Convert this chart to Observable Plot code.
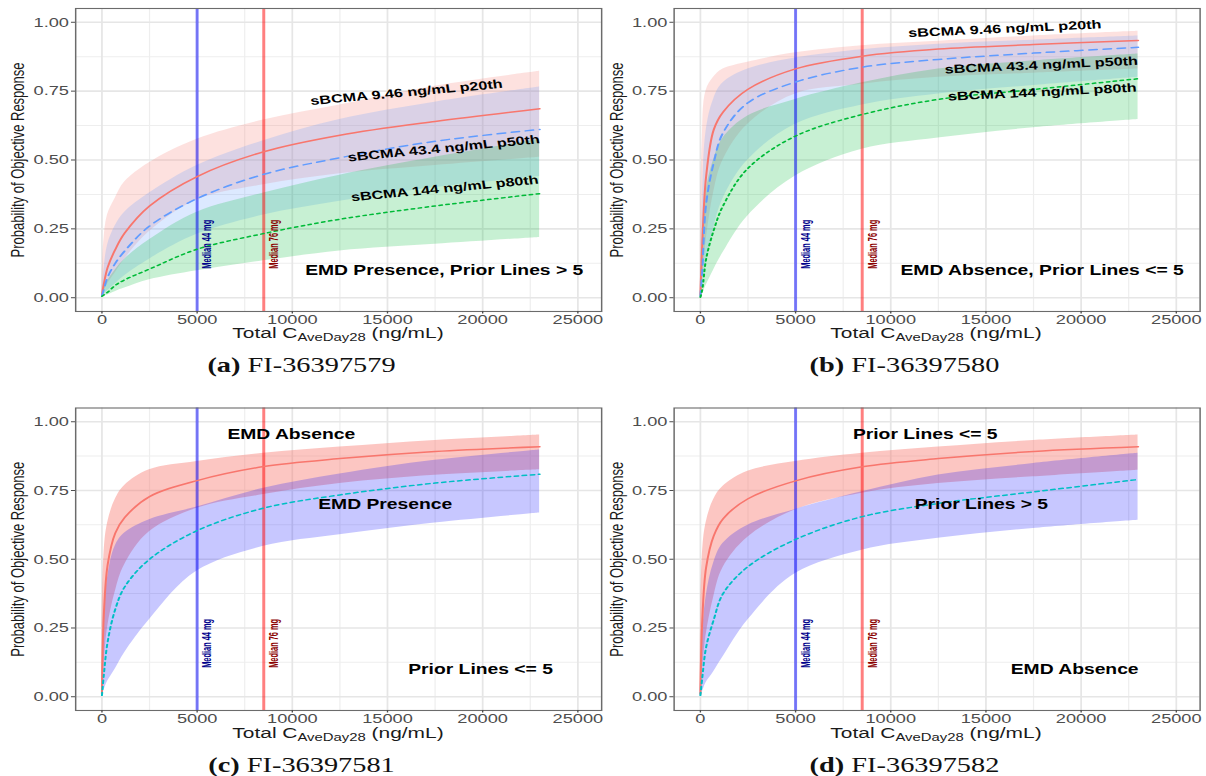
<!DOCTYPE html>
<html>
<head>
<meta charset="utf-8">
<script src="https://cdn.jsdelivr.net/npm/d3@7"></script>
<script src="https://cdn.jsdelivr.net/npm/@observablehq/plot@0.6"></script>
<style>
  html, body { margin: 0; padding: 0; background: #fff; }
  #fig { position: relative; width: 1206px; height: 776px; overflow: hidden; background: #fff; }
  #inner { position: absolute; left: 0; top: 0; height: 776px; transform-origin: 0 0; }
  .panel { position: absolute; }
  .xtitle { position: absolute; font-family: "Liberation Sans", Arial, sans-serif; font-size: 15.5px; line-height: 15px; color: #1a1a1a; white-space: nowrap; transform: translateX(-50%); }
  .xtitle sub { font-size: 11px; vertical-align: -0.25em; line-height: 0; }
  .cap { position: absolute; font-family: "Liberation Serif", "Times New Roman", serif; font-size: 21px; line-height: 20px; color: #111; white-space: nowrap; transform: translateX(-50%); }
  .cap b { font-weight: bold; }
</style>
</head>
<body>
<div id="fig"><div id="inner"></div></div>
<script>
// ---------------- data ----------------
const xs = [0, 100, 300, 700, 1200, 2500, 5000, 8500, 12500, 17500, 23000];

// (a) EMD presence, prior lines > 5
const aP20   = [0.010, 0.050, 0.110, 0.175, 0.235, 0.333, 0.440, 0.530, 0.590, 0.640, 0.686];
const aP20Lo = [0.005, 0.020, 0.050, 0.090, 0.140, 0.240, 0.355, 0.410, 0.450, 0.480, 0.510];
const aP20Hi = [0.015, 0.200, 0.300, 0.360, 0.420, 0.490, 0.575, 0.645, 0.700, 0.768, 0.822];
const aP50   = [0.007, 0.030, 0.075, 0.125, 0.170, 0.260, 0.360, 0.448, 0.508, 0.568, 0.611];
const aP50Lo = [0.003, 0.010, 0.025, 0.050, 0.080, 0.140, 0.230, 0.300, 0.350, 0.400, 0.440];
const aP50Hi = [0.010, 0.090, 0.190, 0.260, 0.310, 0.380, 0.480, 0.570, 0.647, 0.710, 0.765];
const aP80   = [0.005, 0.010, 0.020, 0.045, 0.065, 0.104, 0.176, 0.233, 0.285, 0.333, 0.378];
const aP80Lo = [0.002, 0.005, 0.010, 0.022, 0.035, 0.065, 0.098, 0.134, 0.170, 0.194, 0.219];
const aP80Hi = [0.010, 0.030, 0.060, 0.100, 0.140, 0.210, 0.310, 0.380, 0.445, 0.510, 0.575];

// (b) EMD absence, prior lines <= 5
const bP20   = [0.010, 0.200, 0.440, 0.610, 0.675, 0.757, 0.831, 0.877, 0.903, 0.919, 0.934];
const bP20Lo = [0.005, 0.060, 0.200, 0.380, 0.500, 0.630, 0.740, 0.775, 0.800, 0.815, 0.830];
const bP20Hi = [0.020, 0.550, 0.750, 0.800, 0.830, 0.855, 0.889, 0.915, 0.931, 0.950, 0.967];
const bP50   = [0.005, 0.100, 0.340, 0.490, 0.600, 0.708, 0.783, 0.837, 0.865, 0.888, 0.909];
const bP50Lo = [0.002, 0.030, 0.120, 0.250, 0.360, 0.500, 0.630, 0.700, 0.740, 0.770, 0.800];
const bP50Hi = [0.010, 0.300, 0.600, 0.720, 0.780, 0.830, 0.870, 0.900, 0.920, 0.935, 0.950];
const bP80   = [0.002, 0.030, 0.140, 0.245, 0.335, 0.470, 0.587, 0.665, 0.720, 0.756, 0.795];
const bP80Lo = [0.001, 0.010, 0.043, 0.100, 0.164, 0.297, 0.442, 0.539, 0.580, 0.617, 0.647];
const bP80Hi = [0.005, 0.120, 0.380, 0.500, 0.580, 0.660, 0.720, 0.780, 0.830, 0.860, 0.885];

// (c) prior lines <= 5: EMD absence vs presence
const cAbs    = [0.010, 0.300, 0.480, 0.595, 0.652, 0.728, 0.786, 0.837, 0.866, 0.892, 0.909];
const cAbsLo  = [0.005, 0.100, 0.250, 0.380, 0.480, 0.600, 0.685, 0.735, 0.775, 0.805, 0.825];
const cAbsHi  = [0.020, 0.500, 0.630, 0.716, 0.768, 0.825, 0.855, 0.885, 0.908, 0.932, 0.952];
const cPres   = [0.005, 0.080, 0.200, 0.318, 0.400, 0.500, 0.604, 0.686, 0.734, 0.777, 0.809];
const cPresLo = [0.002, 0.020, 0.055, 0.100, 0.160, 0.280, 0.457, 0.547, 0.589, 0.632, 0.668];
const cPresHi = [0.010, 0.250, 0.430, 0.547, 0.595, 0.644, 0.690, 0.758, 0.810, 0.860, 0.897];

// (d) EMD absence: prior lines <= 5 vs > 5
const dLe5    = [0.010, 0.280, 0.470, 0.585, 0.648, 0.720, 0.785, 0.836, 0.866, 0.892, 0.909];
const dLe5Lo  = [0.005, 0.080, 0.220, 0.360, 0.470, 0.580, 0.680, 0.740, 0.775, 0.800, 0.824];
const dLe5Hi  = [0.020, 0.500, 0.630, 0.716, 0.765, 0.820, 0.855, 0.885, 0.908, 0.932, 0.952];
const dGt5    = [0.005, 0.070, 0.180, 0.280, 0.376, 0.473, 0.572, 0.655, 0.703, 0.745, 0.790];
const dGt5Lo  = [0.002, 0.015, 0.050, 0.090, 0.145, 0.279, 0.448, 0.533, 0.576, 0.612, 0.642];
const dGt5Hi  = [0.010, 0.200, 0.360, 0.485, 0.558, 0.624, 0.681, 0.745, 0.806, 0.848, 0.885];

// reference lines and labels
const medianX = [5000, 8500];
const medianLabels = ["Median 44 mg", "Median 76 mg"];

// axis ticks
const xTicks = [0, 5000, 10000, 15000, 20000, 25000];
const xMinor = [2500, 7500, 12500, 17500, 22500];
const yTicks = [0, 0.25, 0.5, 0.75, 1];
const yMinor = [0.125, 0.375, 0.625, 0.875];

// annotation texts (data coordinates)
const aNoteText = ["sBCMA 9.46 ng/mL p20th", "sBCMA 43.4 ng/mL p50th", "sBCMA 144 ng/mL p80th"];
const aNoteX = [16000, 17960, 18010];
const aNoteY = [0.745, 0.542, 0.396];
const aNoteAngle = [-6.9, -7.4, -7.3];
const bNoteText = aNoteText;
const bNoteX = [15990, 17910, 17960];
const bNoteY = [0.976, 0.844, 0.746];
const bNoteAngle = [-3.5, -3.5, -3.7];

const captions = [["(a)", "FI-36397579"], ["(b)", "FI-36397580"], ["(c)", "FI-36397581"], ["(d)", "FI-36397582"]];

// ---------------- layout ----------------
const S = 1.35;                       // horizontal stretch of the reference
const inner = document.getElementById("inner");
inner.style.width = (1206 / S) + "px";
inner.style.transform = `scaleX(${S})`;

const xDomain = [-1380, 26250];
const yDomain = [-0.05, 1.05];

const toRows = (mid, lo, hi) => xs.map((x, i) => ({x, mid: mid[i], lo: lo[i], hi: hi[i]}));
const notes = (t, x, y, a) => t.map((d, i) => ({text: d, x: x[i], y: y[i], angle: a[i]}));

const RED = "#F8766D", BLUE = "#619CFF", GREEN = "#00BA38", CYAN = "#00BFC4";
const CURVE = "catmull-rom";

const panels = [
  { left: 0, top: 0, fL: 75, fR: 601, fT: 8, fB: 311,
    series: [
      {rows: toRows(aP20, aP20Lo, aP20Hi), color: RED, fill: RED, op: 0.22, dash: null},
      {rows: toRows(aP50, aP50Lo, aP50Hi), color: BLUE, fill: BLUE, op: 0.22, dash: "6,4.5"},
      {rows: toRows(aP80, aP80Lo, aP80Hi), color: GREEN, fill: GREEN, op: 0.22, dash: "2.2,3"}
    ],
    notes: notes(aNoteText, aNoteX, aNoteY, aNoteAngle),
    big: [{text: "EMD Presence, Prior Lines > 5", x: 17980, y: 0.098}]
  },
  { left: 603, top: 0, fL: 673, fR: 1199, fT: 8, fB: 311,
    series: [
      {rows: toRows(bP20, bP20Lo, bP20Hi), color: RED, fill: RED, op: 0.22, dash: null},
      {rows: toRows(bP50, bP50Lo, bP50Hi), color: BLUE, fill: BLUE, op: 0.22, dash: "6,4.5"},
      {rows: toRows(bP80, bP80Lo, bP80Hi), color: GREEN, fill: GREEN, op: 0.22, dash: "2.2,3"}
    ],
    notes: notes(bNoteText, bNoteX, bNoteY, bNoteAngle),
    big: [{text: "EMD Absence, Prior Lines <= 5", x: 17950, y: 0.098}]
  },
  { left: 0, top: 400, fL: 75, fR: 601, fT: 407.5, fB: 710,
    series: [
      {rows: toRows(cAbs, cAbsLo, cAbsHi), color: RED, fill: RED, op: 0.42, dash: null},
      {rows: toRows(cPres, cPresLo, cPresHi), color: CYAN, fill: "#0000FF", op: 0.22, dash: "3,3"}
    ],
    notes: [],
    big: [{text: "EMD Absence", x: 9950, y: 0.953}, {text: "EMD Presence", x: 14880, y: 0.70}, {text: "Prior Lines <= 5", x: 19890, y: 0.101}]
  },
  { left: 603, top: 400, fL: 673, fR: 1199, fT: 407.5, fB: 710,
    series: [
      {rows: toRows(dLe5, dLe5Lo, dLe5Hi), color: RED, fill: RED, op: 0.42, dash: null},
      {rows: toRows(dGt5, dGt5Lo, dGt5Hi), color: CYAN, fill: "#0000FF", op: 0.22, dash: "3,3"}
    ],
    notes: [],
    big: [{text: "Prior Lines <= 5", x: 11810, y: 0.953}, {text: "Prior Lines > 5", x: 14760, y: 0.70}, {text: "EMD Absence", x: 19660, y: 0.101}]
  }
];

const H = 345;

panels.forEach((p, k) => {
  const width = 603 / S;
  const marks = [
    Plot.ruleX(xMinor, {stroke: "#eeeeee", strokeWidth: 0.9}),
    Plot.ruleY(yMinor, {stroke: "#eeeeee", strokeWidth: 1}),
    Plot.ruleX(xTicks, {stroke: "#e6e6e6", strokeWidth: 1.3}),
    Plot.ruleY(yTicks, {stroke: "#e6e6e6", strokeWidth: 1.6}),
  ];
  p.series.forEach(s => {
    marks.push(Plot.areaY(s.rows, {x: "x", y1: "lo", y2: "hi", fill: s.fill, fillOpacity: s.op, curve: CURVE}));
  });
  marks.push(
    Plot.ruleX([medianX[0]], {stroke: "#0000FF", strokeOpacity: 0.5, strokeWidth: 2.2}),
    Plot.ruleX([medianX[1]], {stroke: "#FF0000", strokeOpacity: 0.5, strokeWidth: 2.2})
  );
  p.series.forEach(s => {
    marks.push(Plot.lineY(s.rows, {x: "x", y: "mid", stroke: s.color, strokeWidth: 1.5, strokeDasharray: s.dash, curve: CURVE}));
  });
  marks.push(
    Plot.text([medianLabels[0]], {x: () => medianX[0], y: () => 0.105, text: d => d, rotate: -90, textAnchor: "start", dx: 7.4, fill: "#00008B", fontWeight: "bold", fontSize: 10}),
    Plot.text([medianLabels[1]], {x: () => medianX[1], y: () => 0.105, text: d => d, rotate: -90, textAnchor: "start", dx: 7.4, fill: "#8B0000", fontWeight: "bold", fontSize: 10}),
    Plot.text(p.notes, {x: "x", y: "y", text: "text", rotate: "angle", fill: "#000", fontWeight: "bold", fontSize: 12}),
    Plot.text(p.big, {x: "x", y: "y", text: "text", fill: "#000", fontWeight: "bold", fontSize: 14.3}),
    Plot.frame({stroke: "#6b6b6b", strokeWidth: 1.1}),
    Plot.axisX({ticks: xTicks, tickFormat: d3.format("d"), tickSize: 2.5, tickPadding: 0, label: null}),
    Plot.axisY({ticks: yTicks, tickFormat: d3.format(".2f"), tickSize: 3, tickPadding: 2, label: null}),
    Plot.text(["Probability of Objective Response"], {frameAnchor: "left", text: d => d, rotate: -90, textAnchor: "middle", lineAnchor: "middle", dx: -42.2, fill: "#1a1a1a", fontSize: 13})
  );

  const chart = Plot.plot({
    width,
    height: H,
    marginLeft: (p.fL - p.left) / S,
    marginRight: (p.left + 603 - p.fR) / S,
    marginTop: p.fT - p.top,
    marginBottom: H - (p.fB - p.top),
    x: {domain: xDomain},
    y: {domain: yDomain},
    style: {fontFamily: "'Liberation Sans', Arial, sans-serif", fontSize: "13.5px", color: "#4d4d4d", background: "transparent", overflow: "visible"},
    marks
  });

  d3.select(chart).selectAll("text")
    .filter(function () { return this.textContent.startsWith("Median"); })
    .attr("textLength", 49).attr("lengthAdjust", "spacingAndGlyphs");

  const div = document.createElement("div");
  div.className = "panel";
  div.style.left = (p.left / S) + "px";
  div.style.top = p.top + "px";
  div.appendChild(chart);
  inner.appendChild(div);

  const xt = document.createElement("div");
  xt.className = "xtitle";
  xt.style.left = ((p.fL + p.fR) / 2 / S) + "px";
  xt.style.top = (p.top + 325) + "px";
  xt.innerHTML = "Total C<sub>AveDay28</sub> (ng/mL)";
  inner.appendChild(xt);

  const cap = document.createElement("div");
  cap.className = "cap";
  cap.style.left = ((p.left + 301.5) / S) + "px";
  cap.style.top = (p.top + 355) + "px";
  cap.innerHTML = `<b>${captions[k][0]}</b> ${captions[k][1]}`;
  inner.appendChild(cap);
});
</script>
</body>
</html>
